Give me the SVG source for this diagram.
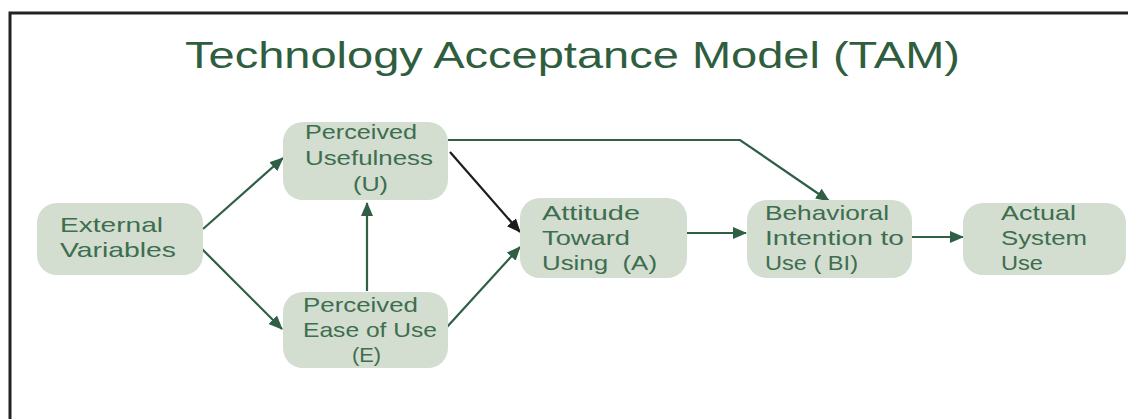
<svg xmlns="http://www.w3.org/2000/svg" width="1128" height="419" viewBox="0 0 1128 419">
  <style>
    .box { fill: #d3ddd0; }
    .lbl { font-family: "Liberation Sans", Arial, sans-serif; font-size: 21px; fill: #3d6e4f; }
    .title { font-family: "Liberation Sans", Arial, sans-serif; font-size: 36px; fill: #2f5e3e; }
    .edge { fill: none; stroke: #2f5f45; stroke-width: 2.2; }
    .edge-dark { fill: none; stroke: #1c1c1c; stroke-width: 2.2; }
  </style>
  <defs>
    <marker id="ah" markerUnits="userSpaceOnUse" markerWidth="14" markerHeight="12" refX="13" refY="6" orient="auto">
      <path d="M0,0 L14,6 L0,12 z" fill="#2f5f45"/>
    </marker>
    <marker id="ahd" markerUnits="userSpaceOnUse" markerWidth="14" markerHeight="12" refX="13" refY="6" orient="auto">
      <path d="M0,0 L14,6 L0,12 z" fill="#1c1c1c"/>
    </marker>
  </defs>
  <rect x="0" y="0" width="1128" height="419" fill="#ffffff"/>
  <path d="M10,430 L10,13 L1140,13" fill="none" stroke="#222222" stroke-width="3"/>
  <text class="title" x="185" y="68" textLength="775" lengthAdjust="spacingAndGlyphs">Technology Acceptance Model (TAM)</text>

  <g id="connectors">
    <line class="edge" x1="203" y1="229" x2="283" y2="158" marker-end="url(#ah)"/>
    <line class="edge" x1="200" y1="247" x2="282" y2="329" marker-end="url(#ah)"/>
    <line class="edge" x1="367" y1="291" x2="367" y2="203" marker-end="url(#ah)"/>
    <line class="edge-dark" x1="450" y1="152" x2="520" y2="232" marker-end="url(#ahd)"/>
    <line class="edge" x1="447" y1="327" x2="520" y2="247" marker-end="url(#ah)"/>
    <polyline class="edge" points="448,140 740,140 829,201" marker-end="url(#ah)"/>
    <line class="edge" x1="687" y1="233" x2="746" y2="233" marker-end="url(#ah)"/>
    <line class="edge" x1="910" y1="237" x2="963" y2="237" marker-end="url(#ah)"/>
  </g>

  <g id="external-variables">
    <rect class="box" x="37" y="203" width="166" height="72" rx="20"/>
    <text class="lbl" x="60" y="232" textLength="103" lengthAdjust="spacingAndGlyphs">External</text>
    <text class="lbl" x="60" y="257" textLength="116" lengthAdjust="spacingAndGlyphs">Variables</text>
  </g>

  <g id="perceived-usefulness">
    <rect class="box" x="283" y="122" width="165" height="78" rx="20"/>
    <text class="lbl" x="305" y="139" textLength="112" lengthAdjust="spacingAndGlyphs">Perceived</text>
    <text class="lbl" x="305" y="165" textLength="128" lengthAdjust="spacingAndGlyphs">Usefulness</text>
    <text class="lbl" x="353" y="191" textLength="35" lengthAdjust="spacingAndGlyphs">(U)</text>
  </g>

  <g id="perceived-ease-of-use">
    <rect class="box" x="283" y="292" width="165" height="76" rx="20"/>
    <text class="lbl" x="303" y="312" textLength="115" lengthAdjust="spacingAndGlyphs">Perceived</text>
    <text class="lbl" x="303" y="337" textLength="134" lengthAdjust="spacingAndGlyphs">Ease of Use</text>
    <text class="lbl" x="352" y="362" textLength="29" lengthAdjust="spacingAndGlyphs">(E)</text>
  </g>

  <g id="attitude">
    <rect class="box" x="520" y="198" width="167" height="80" rx="20"/>
    <text class="lbl" x="542" y="220" textLength="98" lengthAdjust="spacingAndGlyphs">Attitude</text>
    <text class="lbl" x="542" y="245" textLength="88" lengthAdjust="spacingAndGlyphs">Toward</text>
    <text class="lbl" x="542" y="270" textLength="115" lengthAdjust="spacingAndGlyphs" xml:space="preserve">Using  (A)</text>
  </g>

  <g id="behavioral-intention">
    <rect class="box" x="747" y="200" width="165" height="78" rx="20"/>
    <text class="lbl" x="765" y="220" textLength="124" lengthAdjust="spacingAndGlyphs">Behavioral</text>
    <text class="lbl" x="765" y="245" textLength="139" lengthAdjust="spacingAndGlyphs">Intention to</text>
    <text class="lbl" x="765" y="270" textLength="93" lengthAdjust="spacingAndGlyphs">Use ( BI)</text>
  </g>

  <g id="actual-system-use">
    <rect class="box" x="963" y="203" width="163" height="72" rx="20"/>
    <text class="lbl" x="1001" y="220" textLength="75" lengthAdjust="spacingAndGlyphs">Actual</text>
    <text class="lbl" x="1001" y="245" textLength="86" lengthAdjust="spacingAndGlyphs">System</text>
    <text class="lbl" x="1001" y="270" textLength="42" lengthAdjust="spacingAndGlyphs">Use</text>
  </g>
</svg>
